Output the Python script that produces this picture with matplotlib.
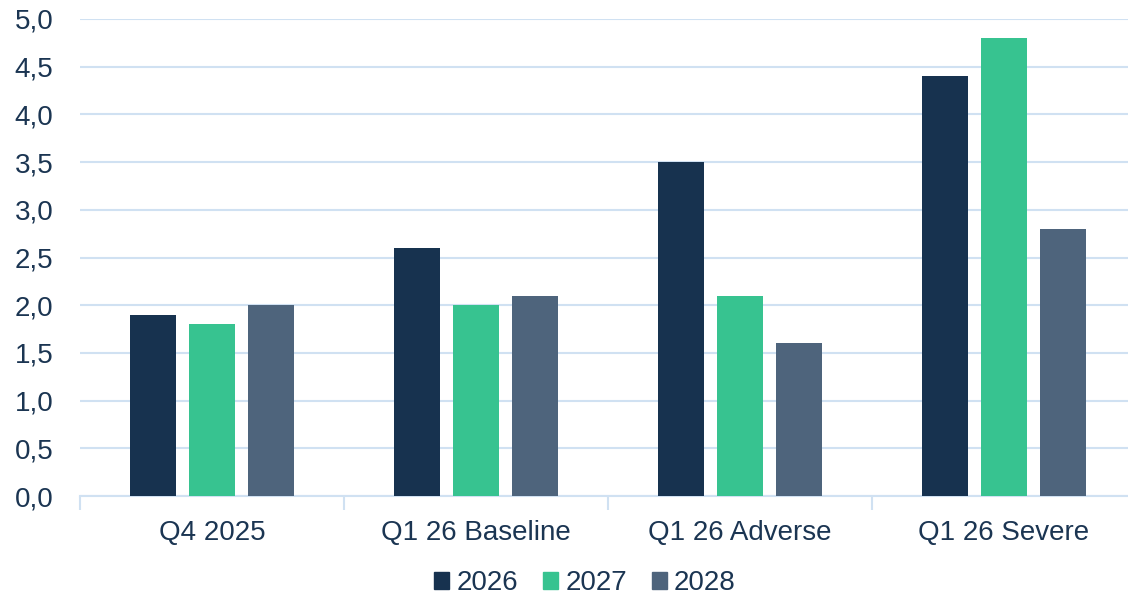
import numpy as np
import matplotlib.pyplot as plt
from matplotlib.patches import Patch
from matplotlib.ticker import FuncFormatter, FixedLocator

plt.rcParams['font.family'] = ['Liberation Sans', 'DejaVu Sans']

Categories = ['Q4 2025', 'Q1 26 Baseline', 'Q1 26 Adverse', 'Q1 26 Severe']
Series = ['2026', '2027', '2028']
Values2026 = [1.9, 2.6, 3.5, 4.4]
Values2027 = [1.8, 2.0, 2.1, 4.8]
Values2028 = [2.0, 2.1, 1.6, 2.8]

Colors = ['#17324F', '#37C390', '#4E647C']
TextColor = '#1B3552'
GridColor = '#D0E1F2'

fig = plt.figure(figsize=(11.28, 5.96), dpi=100)
ax = fig.add_axes([80/1128, 100/596, 1056/1128, 477/596])

X = np.arange(len(Categories))
Width = 0.174
Step = 0.223
for i, (Vals, Col) in enumerate(zip([Values2026, Values2027, Values2028], Colors)):
    ax.bar(X + (i-1)*Step, Vals, width=Width, color=Col, zorder=3)

ax.set_xlim(-0.5, len(Categories)-0.5)
ax.set_ylim(0, 5.0)
ax.set_yticks(np.arange(0, 5.01, 0.5))
ax.yaxis.set_major_formatter(FuncFormatter(lambda v, p: ('%.1f' % v).replace('.', ',')))
ax.grid(axis='y', color=GridColor, linewidth=1.5, zorder=0)
ax.tick_params(axis='y', length=0, pad=19, labelsize=20, labelcolor=TextColor)

ax.set_xticks(X)
ax.set_xticklabels(Categories)
ax.tick_params(axis='x', which='major', length=0, pad=17, labelsize=20, labelcolor=TextColor)
ax.xaxis.set_minor_locator(FixedLocator(np.arange(-0.5, len(Categories), 1.0)))
ax.tick_params(axis='x', which='minor', length=10, width=1.5, color=GridColor)

for s in ['top', 'right', 'left']:
    ax.spines[s].set_visible(False)
ax.spines['bottom'].set_color(GridColor)
ax.spines['bottom'].set_linewidth(1.5)

Handles = [Patch(color=c) for c in Colors]
leg = fig.legend(Handles, Series, loc='center', bbox_to_anchor=(585/1128, 1-583/596), ncol=3,
                 frameon=False, fontsize=20, handlelength=0.55, handleheight=0.55,
                 handletextpad=0.25, columnspacing=0.9)
for t in leg.get_texts():
    t.set_color(TextColor)

plt.savefig('out.png', dpi=100)
plt.close()
